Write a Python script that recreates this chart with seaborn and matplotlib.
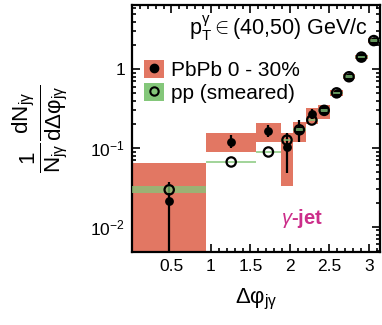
import numpy as np
import matplotlib
matplotlib.use('Agg')
import matplotlib.pyplot as plt
import seaborn as sns
from matplotlib.patches import Patch
from matplotlib.lines import Line2D
from matplotlib.ticker import LogLocator, MultipleLocator, FixedFormatter, FixedLocator

# bin edges in units of pi/20
bin_edges = [0, 6, 10, 12, 13, 14, 15, 16, 17, 18, 19, 20]

pbpb_val = [0.021, 0.119, 0.164, 0.103, 0.17, 0.27, 0.30, 0.50, 0.80, 1.42, 2.3]
pbpb_err_lo = [0.0209, 0.019, 0.026, 0.055, 0.05, 0.04, 0.04, 0.03, 0.04, 0.06, 0.1]
pbpb_err_hi = [0.016, 0.027, 0.03, 0.05, 0.055, 0.045, 0.045, 0.03, 0.04, 0.06, 0.1]
pbpb_sys_lo = [0.001, 0.089, 0.119, 0.033, 0.119, 0.20, 0.23, 0.45, 0.74, 1.33, 2.15]
pbpb_sys_hi = [0.064, 0.155, 0.207, 0.155, 0.213, 0.32, 0.35, 0.55, 0.86, 1.52, 2.45]

pp_val = [0.0295, 0.0665, 0.089, 0.126, 0.17, 0.226, 0.30, 0.50, 0.80, 1.42, 2.3]
pp_sys_lo = [0.027, 0.064, 0.086, 0.121, 0.163, 0.217, 0.288, 0.48, 0.77, 1.37, 2.21]
pp_sys_hi = [0.0325, 0.069, 0.092, 0.131, 0.177, 0.235, 0.312, 0.52, 0.83, 1.47, 2.39]

x_ticks = [0.5, 1, 1.5, 2, 2.5, 3]
x_ticklabels = ['0.5', '1', '1.5', '2', '2.5', '3']

RED = '#e27763'
GREEN = '#84c77a'
MAGENTA = '#cc2e8a'

sns.set_style('ticks')
plt.rcParams['font.family'] = ['Liberation Sans', 'DejaVu Sans']
plt.rcParams['mathtext.fontset'] = 'custom'
plt.rcParams['mathtext.rm'] = 'Liberation Sans'
plt.rcParams['mathtext.it'] = 'Liberation Sans:italic'
plt.rcParams['mathtext.bf'] = 'Liberation Sans:bold'
for k in ['text.color', 'axes.labelcolor', 'xtick.color', 'ytick.color', 'axes.edgecolor']:
    plt.rcParams[k] = 'black'

edges = np.array(bin_edges) * np.pi / 20
left = edges[:-1]
width = np.diff(edges)
centers = left + width / 2

fig = plt.figure(figsize=(3.82, 3.25), dpi=100)
ax = fig.add_axes([132 / 382, 1 - 252 / 325, 248 / 382, 247 / 325])
ax.set_yscale('log')

# systematic boxes (PbPb below markers, pp band on top of the black points)
ax.bar(left, np.array(pbpb_sys_hi) - np.array(pbpb_sys_lo), bottom=pbpb_sys_lo,
       width=width, align='edge', color=RED, linewidth=0, zorder=1)
ax.bar(left, np.array(pp_sys_hi) - np.array(pp_sys_lo), bottom=pp_sys_lo,
       width=width, align='edge', color=GREEN, alpha=0.75, linewidth=0, zorder=5)

# stat errors
ax.errorbar(centers, pbpb_val, yerr=[pbpb_err_lo, pbpb_err_hi], fmt='none',
            ecolor='black', elinewidth=1.6, capsize=0, zorder=3)

sns.scatterplot(x=centers, y=pbpb_val, ax=ax, color='black', s=40,
                edgecolor='black', linewidth=0, zorder=4, legend=False)
sns.scatterplot(x=centers, y=pp_val, ax=ax, facecolor='none', s=45,
                edgecolor='black', linewidth=1.6, zorder=6, legend=False)

ax.set_xlim(0, np.pi)
ax.set_ylim(0.0048, 6.5)

ax.xaxis.set_major_locator(FixedLocator(x_ticks))
ax.xaxis.set_major_formatter(FixedFormatter(x_ticklabels))
ax.xaxis.set_minor_locator(MultipleLocator(0.1))
ax.yaxis.set_major_locator(LogLocator(base=10, numticks=10))
ax.yaxis.set_minor_locator(LogLocator(base=10, subs=np.arange(2, 10), numticks=10))
ax.tick_params(which='both', direction='in', top=True, right=True, width=1.2,
               labelsize=12.5, pad=5, colors='black')
ax.tick_params(which='major', length=6)
ax.tick_params(which='minor', length=3)
ax.set_yticks([0.01, 0.1, 1])
ax.set_yticklabels([r'$10^{-2}$', r'$10^{-1}$', '1'])
for s in ax.spines.values():
    s.set_linewidth(1.6)
    s.set_color('black')

ax.set_xlabel(r'$\mathregular{Δφ}_{\mathregular{jγ}}$', fontsize=16, labelpad=9)
fig.text(0.105, 0.605,
         r'$\frac{1}{\mathregular{N}_{\mathregular{jγ}}}\frac{\mathregular{dN}_{\mathregular{jγ}}}{\mathregular{dΔφ}_{\mathregular{jγ}}}$',
         rotation=90, fontsize=23, ha='center', va='center')

ax.text(0.95, 0.907, r'$\mathregular{p}_{\mathregular{T}}^{\mathregular{γ}}\in$(40,50) GeV/c',
        transform=ax.transAxes, ha='right', va='center', fontsize=15.5)
ax.text(0.685, 0.134, r'$\gamma$-jet', transform=ax.transAxes, ha='center',
        va='center', fontsize=14.5, color=MAGENTA, fontweight='bold')

h1 = (Patch(facecolor=RED, edgecolor='none'),
      Line2D([], [], marker='o', color='black', linestyle='none', markersize=6))
h2 = (Patch(facecolor=GREEN, edgecolor='none'),
      Line2D([], [], marker='o', markerfacecolor='none', markeredgecolor='black',
             markeredgewidth=1.5, linestyle='none', markersize=6))
ax.legend([h1, h2], ['PbPb 0 - 30%', 'pp (smeared)'], loc='upper left',
          bbox_to_anchor=(-0.01, 0.835), frameon=False, fontsize=15,
          handlelength=0.95, handleheight=0.95, handletextpad=0.35,
          labelspacing=0.12, borderpad=0.2)

fig.savefig('out.png', dpi=100)
